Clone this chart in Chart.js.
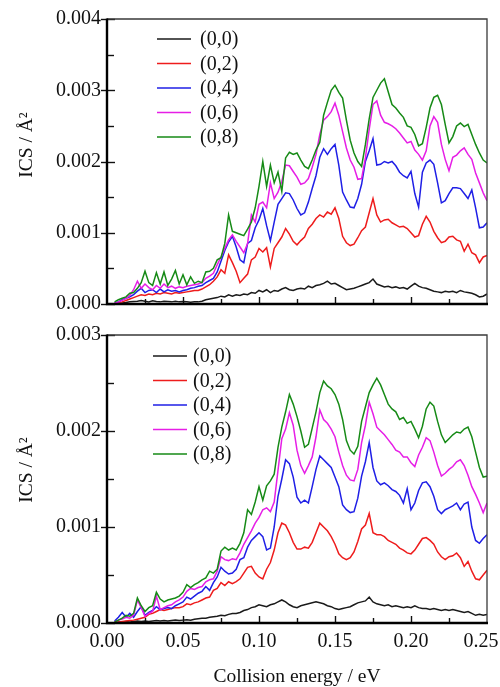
<!DOCTYPE html>
<html>
<head>
<meta charset="utf-8">
<script src="https://cdn.jsdelivr.net/npm/chart.js@4.4.1/dist/chart.umd.min.js"></script>
<style>
  html, body { margin: 0; padding: 0; background: #fff; overflow: hidden; }
  #wrap { position: relative; width: 500px; height: 687px; }
  canvas { position: absolute; left: 0; }
  #topChart { top: 0; }
  #bottomChart { top: 315px; }
</style>
</head>
<body>
<div id="wrap">
  <canvas id="topChart" width="500" height="315"></canvas>
  <canvas id="bottomChart" width="500" height="372"></canvas>
</div>
<script>
// energy grid: 0.005 ... 0.25 eV every 0.0025 eV (99 points)
const energyStart = 0.005;
const energyStep = 0.0025;

const seriesLabels = ['(0,0)', '(0,2)', '(0,4)', '(0,6)', '(0,8)'];
const seriesColors = ['#1a1a1a', '#ee1c1c', '#1f1fe6', '#e61ee6', '#168a16'];

// ---- upper panel, ICS in A^2 ----
const topK00 = [
  0.000005, 0.00001, 0.000015, 0.00002, 0.00003, 0.000035, 0.00004, 0.00005, 0.00004, 0.00003,
  0.000045, 0.000035, 0.00003, 0.00004, 0.000035, 0.00003, 0.00004, 0.00003, 0.000035, 0.00003,
  0.000025, 0.00003, 0.00003, 0.00004, 0.00006, 0.00007, 0.00008, 0.00009, 0.00011, 0.0001,
  0.00013, 0.00011, 0.00013, 0.00012, 0.00014, 0.00013, 0.00016, 0.00015, 0.00019, 0.00017,
  0.0002, 0.00016, 0.00019, 0.00018, 0.00021, 0.00023, 0.0002, 0.00019, 0.00021, 0.00022,
  0.00021, 0.00025, 0.00023, 0.00026, 0.00027, 0.00029, 0.00032, 0.00028, 0.00029, 0.00026,
  0.00023, 0.0002, 0.00021, 0.00022, 0.00024, 0.00026, 0.00028, 0.0003, 0.00035, 0.00028,
  0.00026, 0.00024, 0.00025, 0.00023, 0.00024, 0.00022, 0.00023, 0.00021, 0.00025, 0.00029,
  0.00025, 0.00023, 0.00022, 0.0002, 0.00018, 0.00017, 0.00016, 0.00018, 0.00017, 0.00018,
  0.00016, 0.00019, 0.00017, 0.00016, 0.00015, 0.00013, 0.0001, 0.00011, 0.00014
];
const topR02 = [
  0.00001, 0.00002, 0.00003, 0.00005, 0.00007, 0.00009, 0.00011, 0.00013, 0.00012, 0.00014,
  0.00013, 0.00015, 0.00014, 0.00016, 0.00015, 0.00014, 0.00016, 0.00015, 0.00016, 0.00017,
  0.00018, 0.00019, 0.00019, 0.00021, 0.00024, 0.00027, 0.00032, 0.00038, 0.00048, 0.00043,
  0.00069, 0.00058, 0.00046, 0.0003, 0.00036, 0.00042, 0.00062, 0.00066, 0.00078, 0.00073,
  0.00079, 0.00052, 0.00078, 0.00086, 0.00094, 0.00106, 0.00098, 0.00088, 0.00083, 0.00089,
  0.00094, 0.00106, 0.00112, 0.0012, 0.00125, 0.00122, 0.00129, 0.00126, 0.00135, 0.0012,
  0.00095, 0.00086, 0.00082, 0.00084, 0.00093, 0.00103, 0.00108, 0.00128, 0.00148, 0.00125,
  0.00115, 0.00118, 0.00119, 0.00114, 0.00111, 0.00108, 0.00109, 0.00106, 0.001, 0.00094,
  0.00096, 0.00112, 0.00123, 0.00115, 0.00102, 0.00093, 0.00086, 0.00088, 0.00094, 0.00095,
  0.0009, 0.00088, 0.00074, 0.00084, 0.00072, 0.00069, 0.00058, 0.00066, 0.00068
];
const topB04 = [
  0.00001, 0.00003, 0.00006, 0.00008, 0.0001, 0.00013, 0.00018, 0.00022, 0.00016, 0.00019,
  0.0002, 0.00016, 0.00021, 0.00017, 0.0002, 0.00018, 0.00019, 0.00017, 0.00019, 0.0002,
  0.00022, 0.00023, 0.00025, 0.00026, 0.0003, 0.00033, 0.00036, 0.00045, 0.0006, 0.00075,
  0.00087, 0.00095, 0.0008, 0.00062, 0.00058, 0.00085, 0.00089, 0.00107, 0.00118, 0.00134,
  0.0011, 0.00089, 0.00115, 0.0014, 0.00148, 0.00156, 0.00155, 0.00146, 0.00134, 0.00125,
  0.00128, 0.00143, 0.00162, 0.0018, 0.00206, 0.00218, 0.0021, 0.00218, 0.00224, 0.00195,
  0.00157, 0.00146, 0.00136, 0.00135, 0.00148, 0.00168, 0.002, 0.00215, 0.00232, 0.00195,
  0.00196, 0.002, 0.00198, 0.002, 0.00194, 0.00185, 0.0018, 0.00177, 0.00186, 0.00155,
  0.00136, 0.00185, 0.00198, 0.00202, 0.00196, 0.0017, 0.00142, 0.00145, 0.00155, 0.00163,
  0.00163, 0.00162, 0.00155, 0.00148, 0.0016, 0.00135, 0.00107, 0.00108, 0.00114
];
const topM06 = [
  0.00001, 0.00003, 0.00005, 0.00008, 0.00012, 0.0002, 0.00032, 0.00022, 0.00028, 0.00023,
  0.0002, 0.00026, 0.00022, 0.00028, 0.00023, 0.00025, 0.00022, 0.00024, 0.00023, 0.00025,
  0.00026, 0.00027, 0.00028, 0.0003, 0.00036, 0.00039, 0.00043, 0.00055, 0.00066, 0.00078,
  0.0009, 0.00097, 0.00088, 0.0008, 0.00072, 0.00085, 0.00125, 0.00115, 0.0014, 0.00143,
  0.00135, 0.0017, 0.00148, 0.00157, 0.00172, 0.00195, 0.00194, 0.00186, 0.00178, 0.00168,
  0.0017, 0.00176, 0.00192, 0.0021, 0.00238, 0.00258, 0.00263, 0.0027, 0.00282, 0.00265,
  0.00242, 0.00219, 0.00202, 0.00192, 0.00175, 0.00176, 0.00205, 0.00245, 0.0028, 0.00285,
  0.00265, 0.00255, 0.00253, 0.0025, 0.00246, 0.0024, 0.00233, 0.00226, 0.00228, 0.00216,
  0.0021, 0.00202, 0.00215, 0.0025, 0.00263, 0.00255, 0.00224, 0.00203, 0.00187, 0.00206,
  0.00209, 0.00215, 0.00219, 0.0021, 0.00203, 0.00184, 0.0017, 0.00156, 0.00145
];
const topG08 = [
  0.00003, 0.00006, 0.00008, 0.0001, 0.00015, 0.00016, 0.00022, 0.0003, 0.00046, 0.0003,
  0.00026, 0.00044, 0.00028, 0.00045, 0.00026, 0.00035, 0.00047, 0.00028, 0.00041, 0.00027,
  0.00038, 0.00029, 0.00032, 0.0003, 0.00045, 0.00046, 0.0005, 0.00062, 0.00065, 0.00085,
  0.00125, 0.00102, 0.001, 0.00098, 0.00096, 0.00105, 0.00115, 0.00135, 0.00165, 0.002,
  0.00165, 0.00195, 0.0017, 0.00185, 0.00158, 0.00205, 0.00213, 0.0021, 0.00212, 0.00202,
  0.00193, 0.0019, 0.00202, 0.00216, 0.00227, 0.00265, 0.00283, 0.003, 0.00307, 0.00297,
  0.00289, 0.00258, 0.0023, 0.00212, 0.002, 0.00193, 0.00224, 0.0026, 0.0029, 0.003,
  0.0031, 0.00316, 0.00298, 0.0028, 0.00275, 0.00268, 0.00262, 0.0025, 0.00248, 0.00238,
  0.00222, 0.00225, 0.00248, 0.00275, 0.0029, 0.00293, 0.0028, 0.00252, 0.00226, 0.00235,
  0.0025, 0.00254, 0.00249, 0.00252, 0.00238, 0.00224, 0.00212, 0.00202, 0.00198
];

// ---- lower panel, ICS in A^2 ----
const botK00 = [
  0.000005, 0.00001, 0.00001, 0.000015, 0.00001, 0.000015, 0.00002, 0.000015, 0.00002, 0.000015,
  0.00002, 0.000025, 0.00002, 0.000025, 0.00002, 0.000025, 0.00003, 0.000025, 0.00003, 0.000035,
  0.00003, 0.00004, 0.000045, 0.00005, 0.00005, 0.00006, 0.000065, 0.00007, 0.00008, 0.000075,
  0.00009, 0.0001, 0.0001, 0.00011, 0.00013, 0.00014, 0.00016, 0.00017, 0.00019, 0.00018,
  0.00017, 0.00019, 0.0002, 0.00022, 0.00024, 0.00022, 0.00019, 0.00017, 0.00016, 0.00018,
  0.00019, 0.0002, 0.00021, 0.00022, 0.00021, 0.0002, 0.00018, 0.00017, 0.00015, 0.00014,
  0.00015, 0.00016, 0.00017, 0.00019, 0.00021, 0.00022, 0.00023, 0.00027, 0.00022, 0.0002,
  0.00019, 0.00018, 0.00019, 0.00017, 0.00018, 0.00017, 0.00016, 0.00017, 0.00016, 0.00018,
  0.00016, 0.00015, 0.00015, 0.00014, 0.00015, 0.00014, 0.00013, 0.00014, 0.00013, 0.00014,
  0.00013, 0.00012, 0.00011, 0.00012, 0.0001, 0.00008, 0.00009, 0.00008, 0.00009
];
const botR02 = [
  0.000005, 0.00001, 0.000015, 0.00002, 0.000025, 0.00003, 0.00004, 0.00005, 0.00006, 0.00009,
  0.0001, 0.00012, 0.00014, 0.00013, 0.00014, 0.00015, 0.00016, 0.00016, 0.00017, 0.0002,
  0.00019, 0.00021, 0.00022, 0.00024, 0.00026, 0.00027, 0.00034, 0.00036, 0.00042, 0.00039,
  0.00043, 0.00041, 0.00043, 0.00046, 0.00052, 0.00058, 0.00059, 0.00052, 0.00048, 0.00046,
  0.00056, 0.00063, 0.00076, 0.00094, 0.00104, 0.00102, 0.00094, 0.00084, 0.00077, 0.00077,
  0.00079, 0.00078, 0.00084, 0.00094, 0.00104, 0.001, 0.00096, 0.0009, 0.00082, 0.00072,
  0.00068, 0.00066, 0.00068, 0.00074, 0.00085, 0.00098, 0.00102, 0.00114, 0.00094, 0.00092,
  0.00092, 0.0009, 0.00086, 0.00084, 0.00082, 0.00078, 0.00076, 0.00073, 0.00072, 0.00076,
  0.00082, 0.00088, 0.00089, 0.00086, 0.00082, 0.00074, 0.00069, 0.00066, 0.00069, 0.0007,
  0.00073, 0.00068, 0.00059, 0.00064, 0.00054, 0.00046, 0.00045, 0.0005, 0.00055
];
const botB04 = [
  0.00002, 0.00006, 0.00011, 0.00006, 0.0001, 0.00006, 0.00012, 0.00017, 0.00008, 0.00011,
  0.00013, 0.00017, 0.00014, 0.00015, 0.00016, 0.00015, 0.00018, 0.0002, 0.00022, 0.00027,
  0.00025, 0.00028, 0.00031, 0.00033, 0.00038, 0.00034, 0.00042, 0.00048, 0.00058, 0.00054,
  0.00051, 0.00052, 0.00056, 0.00066, 0.00068, 0.00079, 0.00086, 0.0009, 0.00094, 0.0009,
  0.00076, 0.00078, 0.001, 0.00132, 0.0015, 0.0017, 0.00166, 0.00152, 0.00131, 0.00125,
  0.00128, 0.00125, 0.00142, 0.0016, 0.00174, 0.0017, 0.00166, 0.00162, 0.00152, 0.00142,
  0.00123, 0.00118, 0.00115, 0.00116, 0.0013, 0.00153, 0.00168, 0.00188, 0.00162, 0.00148,
  0.00144, 0.00146, 0.00143, 0.00139, 0.00137, 0.00133, 0.00125, 0.0014, 0.00118, 0.00125,
  0.00138, 0.00146, 0.00147, 0.00142, 0.00132, 0.00118, 0.00114, 0.00118, 0.0012, 0.00122,
  0.00125, 0.00118, 0.00124, 0.00126, 0.001, 0.00086, 0.00083, 0.00088, 0.00092
];
const botM06 = [
  0.00001, 0.00003, 0.00004, 0.00006, 0.00005, 0.00008, 0.00024, 0.00016, 0.00007, 0.0001,
  0.00012, 0.00028, 0.00014, 0.00016, 0.00018, 0.00019, 0.00022, 0.00024, 0.00027, 0.00033,
  0.00036, 0.00035, 0.00037, 0.00038, 0.00043, 0.00045, 0.00046, 0.00054, 0.00069, 0.00066,
  0.00065, 0.00067, 0.00066, 0.00073, 0.00082, 0.00089, 0.00096, 0.00104, 0.0011, 0.00118,
  0.0012, 0.00116, 0.00126, 0.00159, 0.00192, 0.00202, 0.00219, 0.00206, 0.0018, 0.00164,
  0.00156, 0.00164, 0.00173, 0.00194, 0.00222, 0.00212, 0.00208, 0.00202, 0.00194, 0.00178,
  0.00164, 0.00154, 0.00149, 0.00148, 0.0016, 0.00188, 0.00206, 0.0023, 0.00218, 0.00204,
  0.002, 0.00196, 0.00191, 0.00186, 0.0018, 0.00178, 0.00173, 0.00173, 0.00167, 0.00163,
  0.00175, 0.00183, 0.00193, 0.0019, 0.00178, 0.00164, 0.00153, 0.00156, 0.0016, 0.00163,
  0.00168, 0.0017, 0.00164, 0.00154, 0.00142, 0.00134, 0.00125, 0.00115, 0.00125
];
const botG08 = [
  0.00001, 0.00003, 0.00005, 0.00008, 0.00007, 0.0001, 0.00026, 0.00018, 0.00012, 0.00016,
  0.00018, 0.00032, 0.00025, 0.00022, 0.00024, 0.00025, 0.00026, 0.00028, 0.00032, 0.0004,
  0.00037, 0.0004, 0.00042, 0.00045, 0.00047, 0.00054, 0.00052, 0.00056, 0.00075, 0.00079,
  0.00076, 0.00078, 0.00076, 0.00083, 0.00094, 0.00118, 0.00113, 0.00126, 0.00142, 0.00128,
  0.00143, 0.00148, 0.00155, 0.00183, 0.00204, 0.0022, 0.00238, 0.00228, 0.00215, 0.002,
  0.00183, 0.00186, 0.00203, 0.0022, 0.0024, 0.00252, 0.00247, 0.00244, 0.00238, 0.00228,
  0.00212, 0.0019, 0.0018, 0.00176, 0.00184, 0.0021, 0.00225, 0.0024, 0.00248, 0.00255,
  0.00248, 0.00238, 0.00228, 0.00223, 0.0022, 0.00212, 0.00214, 0.00208, 0.0021, 0.00202,
  0.00193, 0.00205, 0.00223, 0.0023, 0.00226, 0.0021, 0.00196, 0.00188, 0.00192, 0.00196,
  0.00199, 0.00198, 0.00202, 0.00204, 0.00194, 0.00178, 0.00162, 0.00152, 0.00153
];

const energies = topK00.map((_, i) => +(energyStart + i * energyStep).toFixed(4));

const serif = 'Liberation Serif, Times New Roman, serif';
const tickFont = { family: serif, size: 20 };

// frame: heavy left/bottom spines, light top/right, inward tick marks
const frameTicks = {
  id: 'frameTicks',
  afterDatasetsDraw(chart) {
    const { ctx, chartArea: a, scales: { x, y } } = chart;
    ctx.save();
    ctx.strokeStyle = '#111';
    ctx.lineWidth = 1.4;
    const nY = Math.round(y.max / 0.0005);
    for (let k = 0; k <= nY; k++) {
      const py = Math.round(y.getPixelForValue(k * 0.0005)) + 0.5;
      ctx.beginPath();
      if (k % 2 === 0) {
        ctx.moveTo(a.left - 6, py);
        ctx.lineTo(a.left + 8, py);
      } else {
        ctx.moveTo(a.left, py);
        ctx.lineTo(a.left + 7, py);
      }
      ctx.stroke();
    }
    for (let k = 1; k < 10; k++) {
      const px = Math.round(x.getPixelForValue(k * 0.025)) + 0.5;
      const len = k % 2 === 0 ? 7 : 5;
      ctx.beginPath();
      ctx.moveTo(px, a.bottom);
      ctx.lineTo(px, a.bottom - len);
      ctx.stroke();
    }
    ctx.strokeStyle = '#3a3a3a';
    ctx.lineWidth = 1.3;
    ctx.beginPath();
    ctx.moveTo(a.left, a.top);
    ctx.lineTo(a.right, a.top);
    ctx.lineTo(a.right, a.bottom);
    ctx.stroke();
    ctx.strokeStyle = '#000';
    ctx.lineWidth = 2.4;
    ctx.beginPath();
    ctx.moveTo(a.left, a.top - 0.5);
    ctx.lineTo(a.left, a.bottom);
    ctx.lineTo(a.right + 1, a.bottom);
    ctx.stroke();
    ctx.restore();
  }
};

// keep the last x label ("0.25") inside the canvas
const edgeLabel = {
  id: 'edgeLabel',
  beforeDraw(chart) {
    const x = chart.scales.x;
    if (!x.options.ticks.display) return;
    const items = x.getLabelItems();
    const last = items[items.length - 1];
    if (last) {
      last.options.translation[0] = Math.min(last.options.translation[0], chart.width - 19);
    }
  }
};

// legend drawn inside the plot, upper left
const insetLegend = {
  id: 'insetLegend',
  afterDraw(chart, args, opts) {
    const { ctx, chartArea: a } = chart;
    ctx.save();
    ctx.font = '20px ' + serif;
    ctx.textBaseline = 'middle';
    ctx.fillStyle = '#111';
    chart.data.datasets.forEach((ds, i) => {
      const yy = a.top + opts.top + i * 24.5;
      ctx.strokeStyle = ds.borderColor;
      ctx.lineWidth = 1.6;
      ctx.beginPath();
      ctx.moveTo(a.left + opts.lineStart, yy);
      ctx.lineTo(a.left + opts.lineEnd, yy);
      ctx.stroke();
      ctx.fillText(ds.label, a.left + opts.textX, yy + 1);
    });
    ctx.restore();
  }
};

// rotated y title with superscript
const sideTitle = {
  id: 'sideTitle',
  afterDraw(chart, args, opts) {
    const { ctx } = chart;
    ctx.save();
    ctx.translate(opts.x, opts.y);
    ctx.rotate(-Math.PI / 2);
    ctx.font = '19.5px ' + serif;
    ctx.fillStyle = '#111';
    ctx.textAlign = 'center';
    ctx.textBaseline = 'middle';
    ctx.fillText(opts.text, 0, 0);
    ctx.restore();
  }
};

function buildChart(canvasId, series, yMax, opts) {
  const datasets = series.map((values, k) => ({
    label: seriesLabels[k],
    data: energies.map((e, i) => ({ x: e, y: values[i] })),
    borderColor: seriesColors[k],
    borderWidth: 1.5,
    pointRadius: 0,
    tension: 0,
    fill: false,
    order: series.length - 1 - k
  }));

  return new Chart(document.getElementById(canvasId), {
    type: 'line',
    data: { datasets },
    plugins: [edgeLabel, frameTicks, insetLegend, sideTitle],
    options: {
      responsive: false,
      animation: false,
      events: [],
      layout: { padding: { top: opts.padTop, right: 13, left: 0, bottom: 0 } },
      scales: {
        x: {
          type: 'linear',
          min: 0,
          max: 0.25,
          grid: { display: false, drawTicks: false },
          border: { display: false },
          ticks: {
            display: opts.xLabels,
            stepSize: 0.05,
            autoSkip: false,
            maxRotation: 0,
            padding: 7,
            color: '#111',
            font: tickFont,
            callback: v => v.toFixed(2)
          },
          title: {
            display: opts.xLabels,
            text: 'Collision energy / eV',
            color: '#111',
            font: { family: serif, size: 19.5, lineHeight: 1 },
            padding: { top: 0, bottom: 0 }
          },
          afterFit: s => {
            s.height = opts.xHeight;
            s.paddingLeft = 0;
            s.paddingRight = 0;
          }
        },
        y: {
          min: 0,
          max: yMax,
          grid: { display: false, drawTicks: false },
          border: { display: false },
          ticks: {
            stepSize: 0.001,
            padding: 6,
            color: '#111',
            font: tickFont,
            callback: v => v.toFixed(3)
          },
          afterFit: s => {
            s.width = 107;
            s.paddingTop = 0;
            s.paddingBottom = 0;
          }
        }
      },
      plugins: {
        legend: { display: false },
        tooltip: { enabled: false },
        insetLegend: opts.legend,
        sideTitle: { text: 'ICS / Å²', x: 27, y: opts.titleY }
      }
    }
  });
}

buildChart('topChart', [topK00, topR02, topB04, topM06, topG08], 0.004, {
  padTop: 19, xHeight: 11, xLabels: false, titleY: 145,
  legend: { top: 20, lineStart: 50, lineEnd: 84, textX: 93 }
});

buildChart('bottomChart', [botK00, botR02, botB04, botM06, botG08], 0.003, {
  padTop: 20, xHeight: 64, xLabels: true, titleY: 155,
  legend: { top: 21, lineStart: 46, lineEnd: 80, textX: 86 }
});
</script>
</body>
</html>
